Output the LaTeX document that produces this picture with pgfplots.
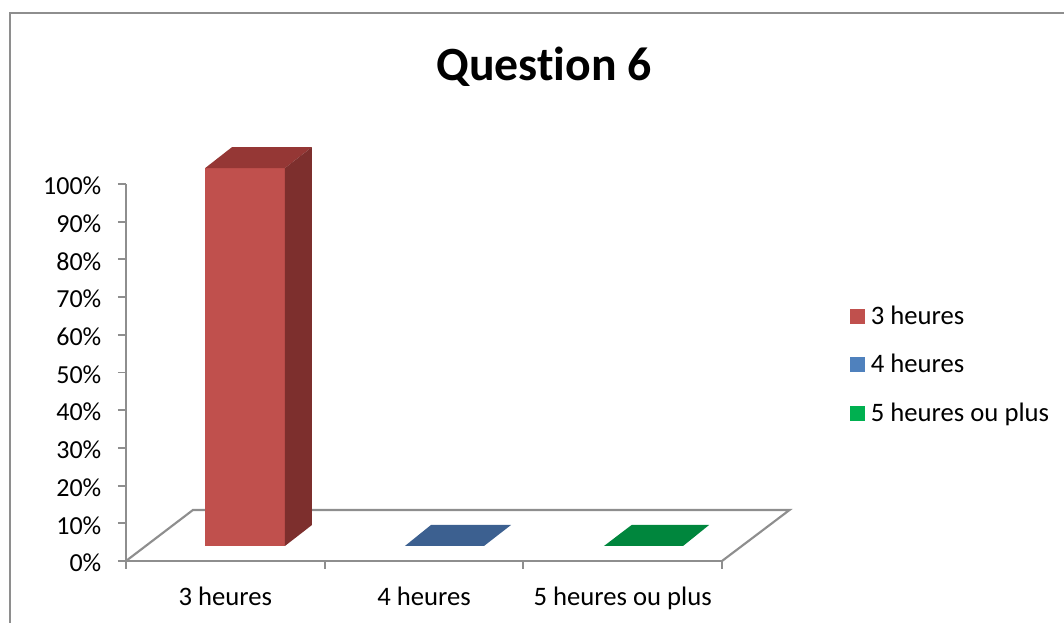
\documentclass[border=0pt]{standalone}
\usepackage{pgfplots}
\pgfplotsset{compat=1.18}
\usepackage{fontspec}
\setmainfont{Carlito}[Ligatures={NoCommon,TeX}]
\definecolor{redf}{HTML}{C0504D}
\definecolor{redt}{HTML}{953735}
\definecolor{reds}{HTML}{7D2F2D}
\definecolor{bluef}{HTML}{3C6090}
\definecolor{bluel}{HTML}{4F81BD}
\definecolor{greenf}{HTML}{00863D}
\definecolor{greenl}{HTML}{00B050}
\definecolor{axisgray}{HTML}{8E8E8E}
\begin{document}
\begin{tikzpicture}[x=0.75pt,y=0.75pt]
\useasboundingbox (0,0) rectangle (1064,623);
\draw[axisgray,line width=1.6pt] (10,0) -- (10,610) -- (1064,610);
\node[font=\fontsize{35.8}{38}\selectfont\bfseries,anchor=center] at (544,556.5) {Question 6};
\begin{axis}[
  at={(94.5pt,46.5pt)},anchor=south west,
  scale only axis,width=447pt,height=282.75pt,
  xmin=0,xmax=3,ymin=0,ymax=100,
  clip=false,
  axis x line=bottom,axis y line=left,
  axis line style={axisgray,line width=1.6pt,-},
  tick style={axisgray,line width=1.4pt},
  major tick length=6pt,
  tick align=outside,
  xtick={0,1,2,3},
  x tick label as interval,
  xticklabels={3 heures,4 heures,5 heures ou plus},
  ytick={0,10,...,100},
  yticklabel={\pgfmathprintnumber[assume math mode=true]{\tick}\%},
  ticklabel style={font=\fontsize{20}{22}\selectfont,text=black},
  xticklabel style={yshift=-10pt},
  yticklabel style={xshift=-9pt,yshift=-1.5pt,font=\fontsize{19.5}{22}\selectfont},
  legend image code/.code={\fill[#1,draw=none] (0pt,-5.6pt) rectangle (11.25pt,5.6pt);\path (13.5pt,0pt);},
  legend style={draw=none,fill=none,at={(1.2147,0.521)},anchor=west,
    row sep=17pt,font=\fontsize{20}{22}\selectfont,
    inner sep=0pt,outer sep=0pt},
  legend cell align=left,
]
% floor
\addplot[axisgray,line width=1.6pt,forget plot] coordinates {(0,0)(0.337,13.53)(3.34,13.53)(3,0)};
% 3 heures : 100 %
\addplot[fill=redf,draw=none,forget plot] coordinates {(0.398,3.98)(0.80,3.98)(0.80,104.2)(0.398,104.2)} --cycle;
\addplot[fill=redt,draw=none,forget plot] coordinates {(0.398,104.2)(0.80,104.2)(0.936,109.8)(0.534,109.8)} --cycle;
\addplot[fill=reds,draw=none,forget plot] coordinates {(0.80,3.98)(0.936,9.55)(0.936,109.8)(0.80,104.2)} --cycle;
% 4 heures : 0 %
\addplot[fill=bluef,draw=none,forget plot] coordinates {(1.404,3.98)(1.802,3.98)(1.938,9.55)(1.535,9.55)} --cycle;
% 5 heures ou plus : 0 %
\addplot[fill=greenf,draw=none,forget plot] coordinates {(2.406,3.98)(2.804,3.98)(2.935,9.55)(2.545,9.55)} --cycle;
\addlegendimage{fill=redf}\addlegendentry{3 heures}
\addlegendimage{fill=bluel}\addlegendentry{4 heures}
\addlegendimage{fill=greenl}\addlegendentry{5 heures ou plus}
\end{axis}
\end{tikzpicture}
\end{document}
